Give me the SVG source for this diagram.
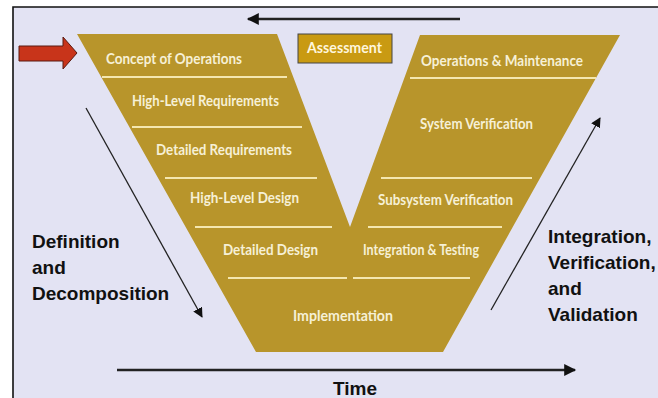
<svg xmlns="http://www.w3.org/2000/svg" width="658" height="398" viewBox="0 0 658 398">
<style>
.stage{font-family:"Lato","Liberation Sans",sans-serif;font-weight:bold;font-size:15px;fill:#F6F0D6;text-anchor:middle}
.side{font-family:"Liberation Sans",Arial,sans-serif;font-weight:bold;font-size:19px;fill:#111}
.sep{stroke:#F4E7B0;stroke-width:2.2;fill:none}
.conn{stroke:#222;fill:none}
</style>
<defs>
<marker id="ah" viewBox="0 0 10 10" refX="9" refY="5" markerWidth="10" markerHeight="10" markerUnits="userSpaceOnUse" orient="auto">
<path d="M0,0 L10,5 L0,10 z" fill="#111"/>
</marker>
<marker id="ahBig" viewBox="0 0 10 10" refX="9" refY="5" markerWidth="14" markerHeight="12" markerUnits="userSpaceOnUse" orient="auto">
<path d="M0,0 L10,5 L0,10 z" fill="#111"/>
</marker>
</defs>
<rect x="0" y="0" width="658" height="398" fill="#ffffff"/>
<rect x="13" y="7" width="660" height="400" fill="#E3E3F3"/>
<path d="M13,398 L13,7 L658,7" stroke="#111" stroke-width="1.6" fill="none"/>

<g id="v-shape">
<polygon points="77,34 277,34 350,227 420,35 620,35 443,352 256,352" fill="#B8952B"/>
<line class="sep" x1="102" y1="77" x2="287" y2="77"/>
<line class="sep" x1="132" y1="127" x2="302" y2="127"/>
<line class="sep" x1="165" y1="178" x2="317" y2="178"/>
<line class="sep" x1="195" y1="227" x2="332" y2="227"/>
<line class="sep" x1="228" y1="278" x2="347" y2="278"/>
<line class="sep" x1="410" y1="78" x2="596" y2="78"/>
<line class="sep" x1="381" y1="178" x2="532" y2="178"/>
<line class="sep" x1="368" y1="227" x2="502" y2="227"/>
<line class="sep" x1="353" y1="278" x2="470" y2="278"/>
</g>

<g id="concept-of-operations"><text class="stage" x="174" y="64" textLength="136" lengthAdjust="spacingAndGlyphs">Concept of Operations</text></g>
<g id="high-level-requirements"><text class="stage" x="205.5" y="106" textLength="147" lengthAdjust="spacingAndGlyphs">High-Level Requirements</text></g>
<g id="detailed-requirements"><text class="stage" x="224" y="155" textLength="136" lengthAdjust="spacingAndGlyphs">Detailed Requirements</text></g>
<g id="high-level-design"><text class="stage" x="244.5" y="203" textLength="109" lengthAdjust="spacingAndGlyphs">High-Level Design</text></g>
<g id="detailed-design"><text class="stage" x="270.5" y="255" textLength="95" lengthAdjust="spacingAndGlyphs">Detailed Design</text></g>
<g id="implementation"><text class="stage" x="343" y="321" textLength="100" lengthAdjust="spacingAndGlyphs">Implementation</text></g>
<g id="integration-testing"><text class="stage" x="421" y="255" textLength="116" lengthAdjust="spacingAndGlyphs">Integration &amp; Testing</text></g>
<g id="subsystem-verification"><text class="stage" x="445.5" y="205" textLength="135" lengthAdjust="spacingAndGlyphs">Subsystem Verification</text></g>
<g id="system-verification"><text class="stage" x="476.5" y="129" textLength="113" lengthAdjust="spacingAndGlyphs">System Verification</text></g>
<g id="operations-maintenance"><text class="stage" x="502" y="66" textLength="162" lengthAdjust="spacingAndGlyphs">Operations &amp; Maintenance</text></g>

<g id="assessment">
<rect x="298" y="34" width="94" height="29" fill="#C99A12" stroke="#444" stroke-width="1"/>
<text class="stage" x="344.5" y="53" textLength="75" lengthAdjust="spacingAndGlyphs" style="fill:#FFF6DC">Assessment</text>
</g>

<g id="start-arrow">
<polygon points="19,46 63,46 63,37 77,53 63,69 63,61 19,61" fill="#C8341A" stroke="#5a1a10" stroke-width="1"/>
</g>

<g id="connectors">
<line class="conn" x1="460" y1="19" x2="248" y2="19" stroke-width="2.4" marker-end="url(#ahBig)"/>
<line class="conn" x1="86" y1="108" x2="202" y2="317" stroke-width="1.3" marker-end="url(#ah)"/>
<line class="conn" x1="491" y1="310" x2="600" y2="118" stroke-width="1.3" marker-end="url(#ah)"/>
<line class="conn" x1="117" y1="370" x2="575" y2="370" stroke-width="2.6" marker-end="url(#ahBig)"/>
</g>

<g id="label-definition">
<text class="side" x="32" y="248">Definition</text>
<text class="side" x="32" y="274">and</text>
<text class="side" x="32" y="300">Decomposition</text>
</g>
<g id="label-integration">
<text class="side" x="548" y="243">Integration,</text>
<text class="side" x="548" y="269">Verification,</text>
<text class="side" x="548" y="295">and</text>
<text class="side" x="548" y="321">Validation</text>
</g>
<g id="label-time">
<text class="side" x="333" y="395">Time</text>
</g>
</svg>
